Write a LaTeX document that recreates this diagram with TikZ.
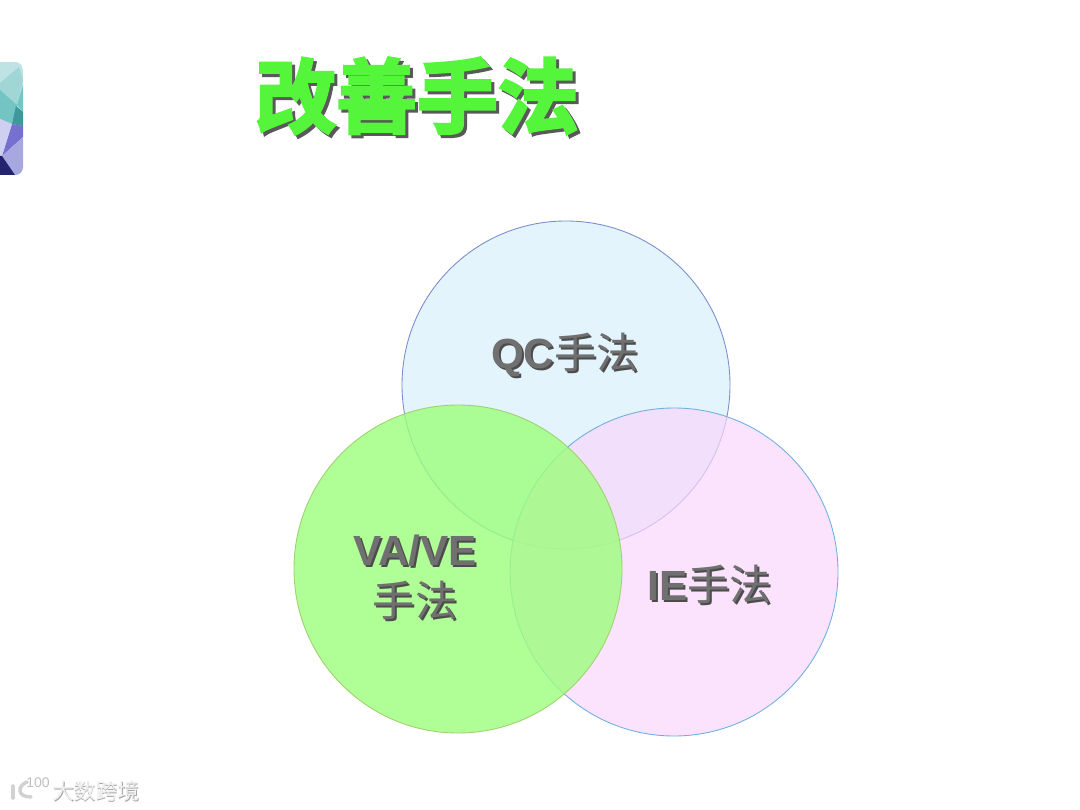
\documentclass[tikz,border=0pt]{standalone}
\usepackage{fontspec}
\usepackage{xcolor}
\setmainfont{Liberation Sans}
\newfontfamily\cjk[BoldFont={Noto Sans CJK SC Bold},BoldFeatures={FakeBold=3.6}]{Noto Sans CJK SC}
\definecolor{titleGreen}{HTML}{55F53C}
\definecolor{labelGray}{HTML}{707070}
\definecolor{qcBlue}{HTML}{E3F4FD}
\definecolor{vaGreen}{HTML}{9CFF7C}
\definecolor{iePink}{HTML}{F9D7FC}
\definecolor{qcEdge}{HTML}{7C8CCC}
\definecolor{vaEdge}{HTML}{A0D070}
\definecolor{ieEdge}{HTML}{6FB0E0}
\tikzset{
    venn/.style={line width=0.25pt},
    titleText/.style={font=\cjk\bfseries\fontsize{23}{23}\selectfont, inner sep=0pt},
    labelText/.style={font=\fontsize{12}{14.5}\selectfont, inner sep=0pt, align=center, text=labelGray},
    labelShadow/.style={labelText, text=black!70},
    markText/.style={font=\cjk\fontsize{6.2}{6.2}\selectfont, inner sep=0pt}
}
\newcommand{\hanLabel}[1]{{\cjk #1}}
\begin{document}
\begin{tikzpicture}[x=0.01cm, y=-0.01cm]
    \useasboundingbox (0,0) rectangle (1080,810);
    % corner badge
    \begin{scope}
        \clip[rounded corners=2.2pt] (-30,62) rectangle (23,175);
        \fill[fill={rgb,255:red,191;green,227;blue,229}] (-30,62) rectangle (23,175);
        \fill[fill={rgb,255:red,160;green,215;blue,214}] (0,83) -- (19,67) -- (23,80) -- (17,105) -- (0,90) -- cycle;
        \fill[fill={rgb,255:red,117;green,196;blue,196}] (0,90) -- (17,105) -- (12,124) -- (0,119) -- cycle;
        \fill[fill={rgb,255:red,112;green,199;blue,197}] (23,85) -- (23,112) -- (17,105) -- cycle;
        \fill[fill={rgb,255:red,62;green,154;blue,154}] (16,106) -- (23,112) -- (23,126) -- (12,124) -- cycle;
        \fill[fill={rgb,255:red,118;green,112;blue,208}] (12,124) -- (23,126) -- (23,137) -- (2,156) -- cycle;
        \fill[fill={rgb,255:red,207;green,207;blue,242}] (0,119) -- (12,124) -- (2,156) -- (0,156) -- cycle;
        \fill[fill={rgb,255:red,168;green,168;blue,224}] (2,156) -- (23,137) -- (23,175) -- (15,175) -- cycle;
        \fill[fill={rgb,255:red,36;green,36;blue,110}] (0,156) -- (2,156) -- (15,175) -- (0,175) -- cycle;
    \end{scope}
    % title
    \node[titleText, text=black!65] (titleShadow) at (420,99) {改善手法};
    \node[titleText, text=titleGreen] (title) at (417,96) {改善手法};
    % circles
    \draw[venn, draw=qcEdge, fill=qcBlue] (566,385) circle (164);
    \draw[venn, draw=ieEdge, fill=iePink, fill opacity=0.7] (674,572) circle (164);
    \draw[venn, draw=vaEdge, fill=vaGreen, fill opacity=0.8] (458,569) circle (164);
    % labels
    \node[labelShadow] (qcShadow) at (567,357) {\textbf{QC}\hanLabel{手法}};
    \node[labelText] (qc) at (565,355) {\textbf{QC}\hanLabel{手法}};
    \node[labelShadow] (vaShadow) at (417,579) {\textbf{VA/VE}\\\hanLabel{手法}};
    \node[labelText] (va) at (415,577) {\textbf{VA/VE}\\\hanLabel{手法}};
    \node[labelShadow] (ieShadow) at (712,586) {\textbf{IE}\hanLabel{手法}};
    \node[labelText] (ie) at (710,584) {\textbf{IE}\hanLabel{手法}};
    % watermark
    \node[markText, text=black!35] (markShadow) at (96.7,791.7) {大数跨境};
    \node[markText, text=black!6] (mark) at (96,791) {大数跨境};
    \draw[black!18, line width=1pt, line cap=round] (13,786) -- (13,798);
    \draw[black!18, line width=1pt, line cap=round] (27,782) .. controls (17,786) and (17,797) .. (31,797);
    \node[font=\fontsize{4}{4}\selectfont, inner sep=0pt, text=black!25] (markNum) at (38,783) {100};
\end{tikzpicture}
\end{document}
